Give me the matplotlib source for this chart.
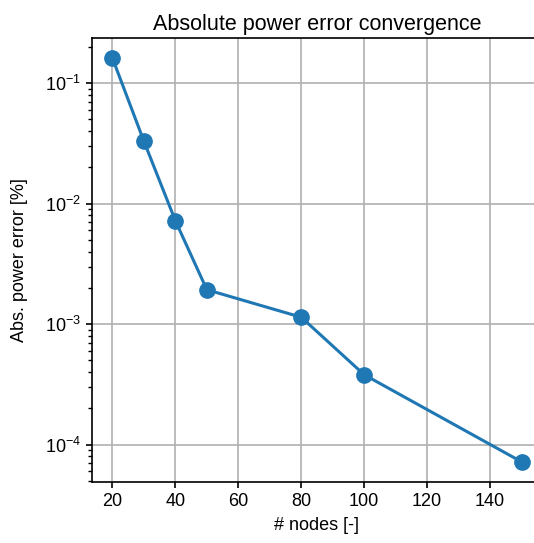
import numpy as np
import matplotlib
matplotlib.use("Agg")
import matplotlib.pyplot as plt

plt.rcParams['font.family'] = ['Liberation Sans', 'DejaVu Sans']
plt.rcParams['mathtext.fontset'] = 'custom'
plt.rcParams['mathtext.rm'] = 'Liberation Sans'

# convergence data
nodes = [20, 30, 40, 50, 80, 100, 150]
abs_err = [0.161, 0.0329, 0.0072, 0.00193, 0.00114, 0.00038, 7.2e-5]

fig = plt.figure(figsize=(5.34, 5.43), dpi=100)
# axes runs a bit past the right edge (figure is cropped there)
ax = fig.add_axes([92/534, 1 - 482/543, 450/534, 444/543])

ax.semilogy(nodes, abs_err, 'o-', color='#1f77b4', lw=2.2, ms=11)
ax.grid(True, which='major', color='#b0b0b0', lw=1.2)
ax.set_xticks([20, 40, 60, 80, 100, 120, 140])
ax.tick_params(labelsize=13, which='major', length=4.5, width=1.2)
ax.tick_params(which='minor', length=3, width=1)
for s in ax.spines.values():
    s.set_linewidth(1.2)

ax.set_xlabel('# nodes [-]', fontsize=13, labelpad=5)
ax.set_ylabel('Abs. power error [%]', fontsize=13, labelpad=12)
ax.set_title('Absolute power error convergence', fontsize=15.5)

fig.savefig('out.png', dpi=100)
